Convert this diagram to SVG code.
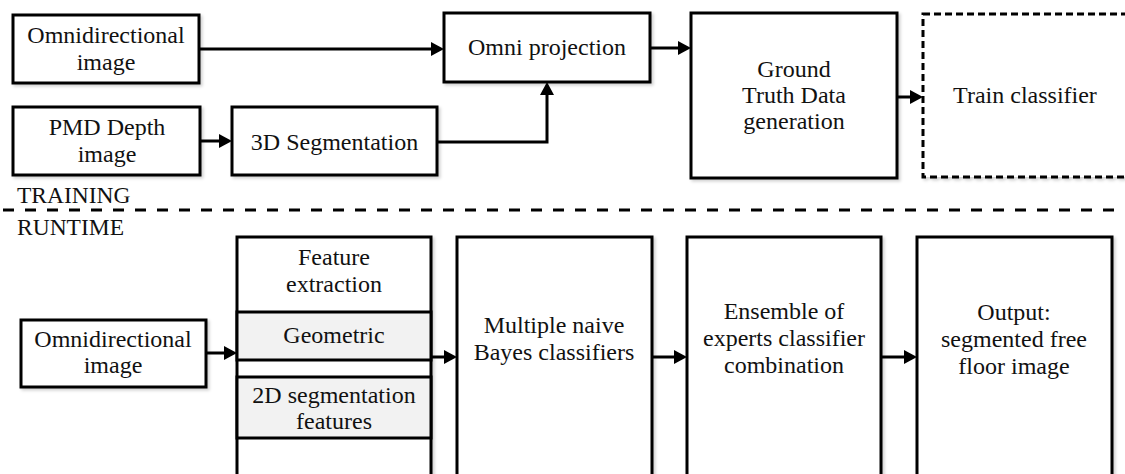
<svg xmlns="http://www.w3.org/2000/svg" width="1125" height="474" viewBox="0 0 1125 474">
  <style>
    .box { fill: #ffffff; stroke: #000000; stroke-width: 3; filter: url(#shadow); }
    .sub { fill: #f2f2f2; stroke: #000000; stroke-width: 3; }
    .dash { stroke-dasharray: 7 4; }
    text { font-family: 'Liberation Serif', 'Times New Roman', serif; fill: #111111; }
    .lbl { font-size: 24px; text-anchor: middle; }
    .sec { font-size: 23.5px; }
    .edge { fill: none; stroke: #000000; stroke-width: 3; marker-end: url(#head); }
  </style>
  <defs>
    <filter id="shadow" x="-10%" y="-10%" width="125%" height="125%">
      <feDropShadow dx="2" dy="2" stdDeviation="1.5" flood-color="#000000" flood-opacity="0.18"/>
    </filter>
    <marker id="head" markerUnits="userSpaceOnUse" markerWidth="14" markerHeight="14" refX="0" refY="7" orient="auto">
      <path d="M0,0 L13,7 L0,14 Z" fill="#000000"/>
    </marker>
  </defs>
  <rect width="1125" height="474" fill="#ffffff"/>

  <!-- training stage -->
  <g id="train-omni">
    <rect class="box" x="13" y="15" width="186" height="68"/>
    <text class="lbl" x="106" y="43">Omnidirectional</text>
    <text class="lbl" x="106" y="70">image</text>
  </g>
  <g id="pmd-depth">
    <rect class="box" x="13" y="107" width="187" height="68"/>
    <text class="lbl" x="107" y="135">PMD Depth</text>
    <text class="lbl" x="107" y="162">image</text>
  </g>
  <g id="seg3d">
    <rect class="box" x="232" y="107" width="205" height="68"/>
    <text class="lbl" x="334.5" y="150">3D Segmentation</text>
  </g>
  <g id="omni-projection">
    <rect class="box" x="444" y="13" width="206" height="69"/>
    <text class="lbl" x="547" y="55">Omni projection</text>
  </g>
  <g id="ground-truth">
    <rect class="box" x="691" y="13" width="206" height="165"/>
    <text class="lbl" x="794" y="77">Ground</text>
    <text class="lbl" x="794" y="103">Truth Data</text>
    <text class="lbl" x="794" y="129">generation</text>
  </g>
  <g id="train-classifier">
    <rect class="box dash" x="923" y="14" width="206" height="163"/>
    <text class="lbl" x="1025" y="103">Train classifier</text>
  </g>

  <!-- stage separator -->
  <g id="separator">
    <line x1="0" y1="210" x2="1125" y2="210" stroke="#000000" stroke-width="3" stroke-dasharray="11 11" stroke-dashoffset="-3"/>
    <text class="sec" x="17" y="203">TRAINING</text>
    <text class="sec" x="17" y="235">RUNTIME</text>
  </g>

  <!-- runtime stage -->
  <g id="run-omni">
    <rect class="box" x="21" y="320" width="185" height="67"/>
    <text class="lbl" x="113" y="347">Omnidirectional</text>
    <text class="lbl" x="113" y="373">image</text>
  </g>
  <g id="feature-extraction">
    <rect class="box" x="237" y="237" width="194" height="262"/>
    <text class="lbl" x="334" y="265">Feature</text>
    <text class="lbl" x="334" y="292">extraction</text>
    <rect class="sub" x="237" y="312" width="194" height="48"/>
    <text class="lbl" x="334" y="343">Geometric</text>
    <rect class="sub" x="237" y="377" width="194" height="61"/>
    <text class="lbl" x="334" y="403">2D segmentation</text>
    <text class="lbl" x="334" y="429">features</text>
  </g>
  <g id="naive-bayes">
    <rect class="box" x="457" y="237" width="195" height="262"/>
    <text class="lbl" x="554" y="333">Multiple naive</text>
    <text class="lbl" x="554" y="360">Bayes classifiers</text>
  </g>
  <g id="ensemble">
    <rect class="box" x="687" y="237" width="194" height="262"/>
    <text class="lbl" x="784" y="319">Ensemble of</text>
    <text class="lbl" x="784" y="346">experts classifier</text>
    <text class="lbl" x="784" y="373">combination</text>
  </g>
  <g id="output">
    <rect class="box" x="917" y="237" width="195" height="262"/>
    <text class="lbl" x="1014" y="320">Output:</text>
    <text class="lbl" x="1014" y="347">segmented free</text>
    <text class="lbl" x="1014" y="374">floor image</text>
  </g>

  <!-- connectors -->
  <g id="connectors">
    <path class="edge" d="M199,49 H431"/>
    <path class="edge" d="M200,141 H219"/>
    <path class="edge" d="M437,142 H547 V95"/>
    <path class="edge" d="M650,48 H678"/>
    <path class="edge" d="M897,97 H910"/>
    <path class="edge" d="M206,353 H224"/>
    <path class="edge" d="M431,357 H444"/>
    <path class="edge" d="M652,357 H674"/>
    <path class="edge" d="M881,357 H904"/>
  </g>
</svg>
